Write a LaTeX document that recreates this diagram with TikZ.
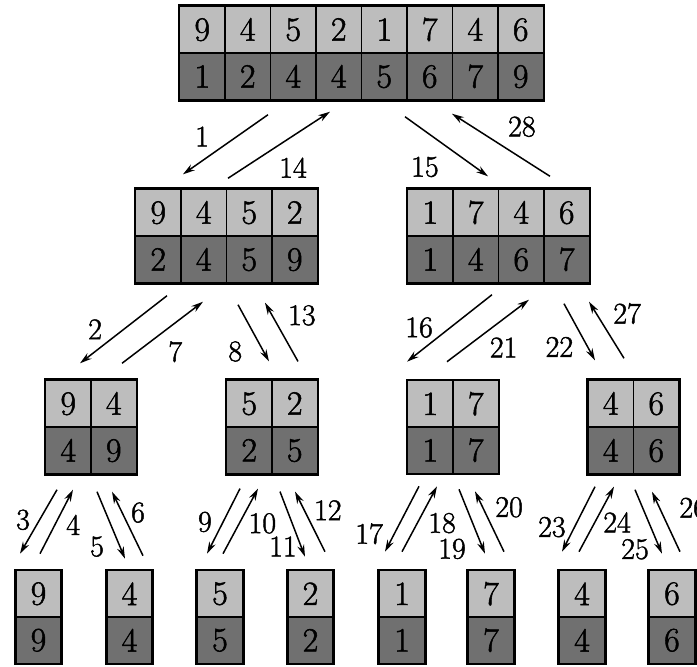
\documentclass[tikz,border=0pt]{standalone}
\usepackage{fontspec}
\usetikzlibrary{arrows.meta,matrix}
\newfontfamily\thickfont{Latin Modern Roman}[FakeBold=1.5]
\definecolor{lite}{gray}{0.74}
\definecolor{dark}{gray}{0.44}

\begin{document}
\begin{tikzpicture}[x=1pt,y=-1pt,>={Stealth[length=12pt,width=7pt]}]
        \tikzstyle{cell}=[draw,line width=1.6pt,minimum width=45.5pt,minimum height=46.5pt,
                          inner sep=0pt,font=\thickfont\fontsize{34}{34}\selectfont]
        \tikzstyle{box}=[matrix of nodes,nodes={cell},column sep=-1.6pt,row sep=-1.6pt,
                         row 1/.style={nodes={fill=lite}},row 2/.style={nodes={fill=dark}},
                         draw,line width=2pt,inner sep=0pt]
        \tikzstyle{lbl}=[font=\thickfont\fontsize{30}{30}\selectfont,inner sep=0pt]
        \tikzstyle{arr}=[->,line width=1.5pt]

        \useasboundingbox (0,0) rectangle (697,667);

        \matrix (N)    [box] at (361.5,53) {9 & 4 & 5 & 2 & 1 & 7 & 4 & 6 \\ 1 & 2 & 4 & 4 & 5 & 6 & 7 & 9 \\};
        \matrix (N1)   [box] at (226.5,236) {9 & 4 & 5 & 2 \\ 2 & 4 & 5 & 9 \\};
        \matrix (N2)   [box] at (498.5,236) {1 & 7 & 4 & 6 \\ 1 & 4 & 6 & 7 \\};
        \matrix (N11)  [box] at (91,427)    {9 & 4 \\ 4 & 9 \\};
        \matrix (N12)  [box] at (272,427)   {5 & 2 \\ 2 & 5 \\};
        \matrix (N21)  [box] at (453,427)   {1 & 7 \\ 1 & 7 \\};
        \matrix (N22)  [box] at (633.5,427) {4 & 6 \\ 4 & 6 \\};
        \matrix (N111) [box] at (38.5,617)  {9 \\ 9 \\};
        \matrix (N112) [box] at (129.5,617) {4 \\ 4 \\};
        \matrix (N121) [box] at (220,617)   {5 \\ 5 \\};
        \matrix (N122) [box] at (310.5,617) {2 \\ 2 \\};
        \matrix (N211) [box] at (402,617)   {1 \\ 1 \\};
        \matrix (N212) [box] at (491,617)   {7 \\ 7 \\};
        \matrix (N221) [box] at (582,617)   {4 \\ 4 \\};
        \matrix (N222) [box] at (672,617)   {6 \\ 6 \\};

        \path[arr,nodes={lbl}]
          ([shift={(-93.5,13)}]N.south)   edge node[pos=.64,shift={(-11.6,-16.3)}] {1}  ([shift={(-43.5,-13)}]N1.north)
          ([shift={(1.5,-9)}]N1.north)    edge node[pos=.49,shift={(15,22)}]       {14} ([shift={(-31.5,10)}]N.south)
          ([shift={(43.5,15)}]N.south)    edge node[pos=.45,shift={(-17.5,23.4)}]  {15} ([shift={(-10.5,-11)}]N2.north)
          ([shift={(51.5,-11)}]N2.north)  edge node[pos=.44,shift={(15,-22)}]      {28} ([shift={(90.5,12)}]N.south)
          % left half
          ([shift={(-59.5,11)}]N1.south)  edge node[pos=.70,shift={(-11,-13.7)}]   {2}  ([shift={(-11,-15)}]N11.north)
          ([shift={(31,-15)}]N11.north)   edge node[pos=.48,shift={(14.4,18)}]     {7}  ([shift={(-23.5,17)}]N1.south)
          ([shift={(11.5,20)}]N1.south)   edge node[pos=.62,shift={(-22,11.6)}]    {8}  ([shift={(-3,-17)}]N12.north)
          ([shift={(26,-17)}]N12.north)   edge node[pos=.58,shift={(23,-12)}]      {13} ([shift={(38.5,18)}]N1.south)
          ([shift={(-34,14)}]N11.south)   edge node[pos=.58,shift={(-12.5,-7)}]    {3}  ([shift={(-18.5,-15)}]N111.north)
          ([shift={(1.5,-15)}]N111.north) edge node[pos=.56,shift={(14.7,7)}]      {4}  ([shift={(-18,14)}]N11.south)
          ([shift={(6,16)}]N11.south)     edge node[pos=.70,shift={(-19.6,8)}]     {5}  ([shift={(-4.5,-10)}]N112.north)
          ([shift={(13.5,-13)}]N112.north) edge node[pos=.58,shift={(13,-6)}]      {6}  ([shift={(21,16)}]N11.south)
          ([shift={(-32,13)}]N12.south)   edge node[pos=.62,shift={(-14.6,-7)}]    {9}  ([shift={(-13,-15)}]N121.north)
          ([shift={(3,-15)}]N121.north)   edge node[pos=.61,shift={(18,9.4)}]      {10} ([shift={(-14,13)}]N12.south)
          ([shift={(8,16)}]N12.south)     edge node[pos=.75,shift={(-15.8,6)}]     {11} ([shift={(-5.5,-12)}]N122.north)
          ([shift={(14.5,-17)}]N122.north) edge node[pos=.54,shift={(19,-9)}]      {12} ([shift={(23,16)}]N12.south)
          % right half
          ([shift={(-6.5,10)}]N2.south)   edge node[pos=.71,shift={(-12.6,-14.8)}] {16} ([shift={(-46,-17)}]N21.north)
          ([shift={(-6,-17)}]N21.north)   edge node[pos=.52,shift={(14,18)}]       {21} ([shift={(30.5,15)}]N2.south)
          ([shift={(65.5,19)}]N2.south)   edge node[pos=.56,shift={(-22,11.5)}]    {22} ([shift={(-38.5,-18)}]N22.north)
          ([shift={(-9.5,-20)}]N22.north) edge node[pos=.56,shift={(22.7,-13)}]    {27} ([shift={(90.5,17)}]N2.south)
          ([shift={(-34,11)}]N21.south)   edge node[pos=.88,shift={(-20,-10)}]     {17} ([shift={(-17,-17)}]N211.north)
          ([shift={(0,-17)}]N211.north)   edge node[pos=.59,shift={(19.4,10)}]     {18} ([shift={(-16,11)}]N21.south)
          ([shift={(6,14)}]N21.south)     edge node[pos=.77,shift={(-27,10)}]      {19} ([shift={(-6,-15)}]N212.north)
          ([shift={(13,-17)}]N212.north)  edge node[pos=.57,shift={(21.6,-10)}]    {20} ([shift={(22,16)}]N21.south)
          ([shift={(-38.5,11)}]N22.south) edge node[pos=.76,shift={(-18,-9)}]      {23} ([shift={(-20,-17)}]N221.north)
          ([shift={(-3,-17)}]N221.north)  edge node[pos=.59,shift={(17.4,9)}]      {24} ([shift={(-19.5,11)}]N22.south)
          ([shift={(1.5,14)}]N22.south)   edge node[pos=.80,shift={(-21.6,8.4)}]   {25} ([shift={(-10,-15)}]N222.north)
          ([shift={(8,-17)}]N222.north)   edge node[pos=.53,shift={(28,-12)}]      {26} ([shift={(18.5,16)}]N22.south);
\end{tikzpicture}
\end{document}
